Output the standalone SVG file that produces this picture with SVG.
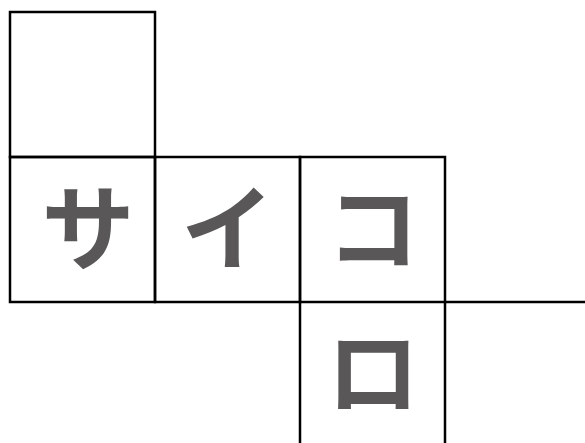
<svg xmlns="http://www.w3.org/2000/svg" width="585" height="443" viewBox="0 0 585 443">
<style>
.ln{stroke:#000;stroke-width:2.5;fill:none}
.t{font-family:"Noto Sans CJK JP","Noto Sans CJK SC",sans-serif;font-weight:bold;font-size:93px;fill:#595757;text-anchor:middle;dominant-baseline:central}
</style>
<rect width="585" height="443" fill="#fff"/>
<g id="top"><rect class="ln" x="10" y="12" width="145" height="145"/></g>
<g id="sa"><rect class="ln" x="10" y="157" width="145" height="145"/><text class="t" x="88" y="222">サ</text></g>
<g id="i"><rect class="ln" x="155" y="157" width="145" height="145"/><text class="t" x="227.5" y="222">イ</text></g>
<g id="ko"><rect class="ln" x="300" y="157" width="145" height="145"/><text class="t" x="373" y="222">コ</text></g>
<g id="ro"><path class="ln" d="M300 302V445M445 302V445"/><text class="t" x="373" y="366">ロ</text></g>
<g id="connectors"><path class="ln" d="M445 302H585"/></g>
</svg>
